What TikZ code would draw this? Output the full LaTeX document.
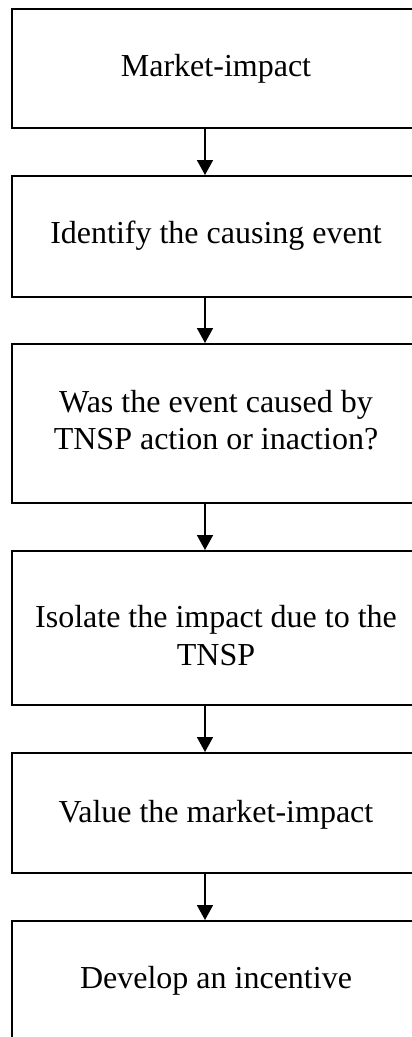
\documentclass[tikz,border=0pt]{standalone}
\usepackage{fontspec}
\setmainfont{Liberation Serif}
\usetikzlibrary{arrows.meta}

\tikzset{
  stepbox/.style={draw=black, line width=0.75pt, fill=none, inner sep=0pt,
                  minimum width=153pt},
  steptext/.style={font=\fontsize{12}{13.8}\selectfont, inner sep=0pt,
                   anchor=base, align=center},
  flow/.style={draw=black, line width=0.55pt,
               -{Triangle[length=5.6pt,width=6pt]}}
}

\begin{document}
\begin{tikzpicture}[x=0.375pt, y=-0.375pt]
  \useasboundingbox (0,0) rectangle (412,1037);
  \clip (0,0) rectangle (412,1037);

  % process boxes (right side and last box run past the page edge)
  \node[stepbox, minimum height=44.625pt] (b1) at (216,68.5) {};
  \node[stepbox, minimum height=45.375pt] (b2) at (216,236.5) {};
  \node[stepbox, minimum height=59.625pt] (b3) at (216,423.5) {};
  \node[stepbox, minimum height=57.75pt]  (b4) at (216,628) {};
  \node[stepbox, minimum height=45pt]     (b5) at (216,813) {};
  \node[stepbox, minimum height=52.125pt] (b6) at (216,990.5) {};

  % step labels
  \node[steptext] (t1) at (216,77)  {Market-impact};
  \node[steptext] (t2) at (216,244) {Identify the causing event};
  \node[steptext] (t3a) at (216,412) {Was the event caused by};
  \node[steptext] (t3b) at (216,449) {TNSP action or inaction?};
  \node[steptext] (t4a) at (216,627) {Isolate the impact due to the};
  \node[steptext] (t4b) at (216,665) {TNSP};
  \node[steptext] (t5) at (216,822) {Value the market-impact};
  \node[steptext] (t6) at (216,988) {Develop an incentive};

  % connectors
  \coordinate (ax) at (205,0);
  \draw[flow] (b1.south -| ax) -- (b2.north -| ax);
  \draw[flow] (b2.south -| ax) -- (b3.north -| ax);
  \draw[flow] (b3.south -| ax) -- (b4.north -| ax);
  \draw[flow] (b4.south -| ax) -- (b5.north -| ax);
  \draw[flow] (b5.south -| ax) -- (b6.north -| ax);
\end{tikzpicture}
\end{document}
